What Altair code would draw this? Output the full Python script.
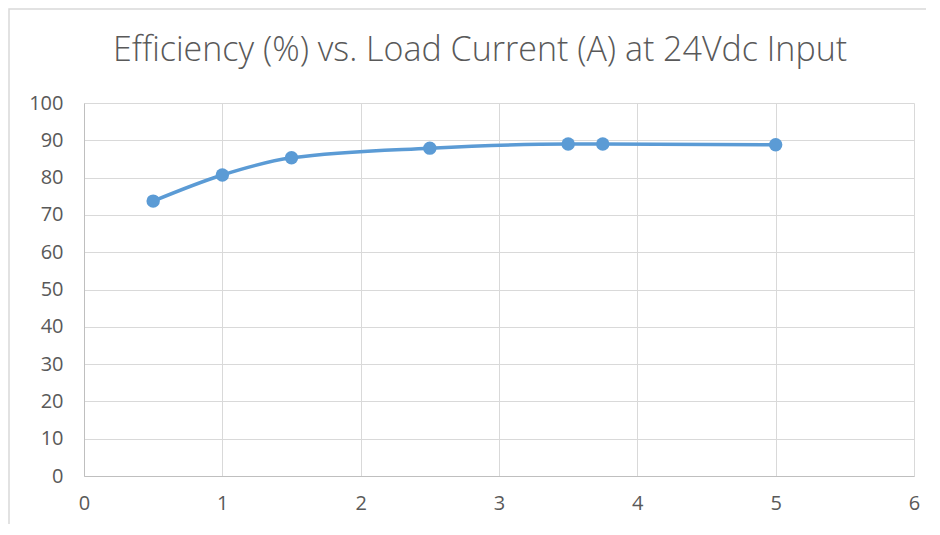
import altair as alt
import pandas as pd

load_current = [0.5, 1.0, 1.5, 2.5, 3.5, 3.75, 5.0]
efficiency = [73.7, 80.7, 85.3, 87.9, 89.0, 89.0, 88.8]
title_text = ["Efficiency (%) vs. Load Current (A) at 24Vdc Input"]

df = pd.DataFrame({"current": load_current, "eff": efficiency})

FONT = "Open Sans"
GRID = "#D9D9D9"
LABEL = "#595959"
BLUE = "#5B9BD5"

x = alt.X("current:Q", scale=alt.Scale(domain=[0, 6], nice=False),
          axis=alt.Axis(title=None, values=[0, 1, 2, 3, 4, 5, 6], format="d",
                        grid=True, gridColor=GRID, domainColor="#BFBFBF",
                        ticks=False, labelPadding=17, labelFontSize=20,
                        labelFlush=False,
                        labelColor=LABEL, labelFont=FONT))
y = alt.Y("eff:Q", scale=alt.Scale(domain=[0, 100], nice=False),
          axis=alt.Axis(title=None, values=list(range(0, 101, 10)),
                        grid=True, gridColor=GRID, domainColor="#BFBFBF",
                        ticks=False, labelPadding=21, labelFontSize=20,
                        labelFlush=False,
                        labelColor=LABEL, labelFont=FONT))

base = alt.Chart(df)
line = base.mark_line(color=BLUE, strokeWidth=3.5, interpolate="monotone").encode(x=x, y=y)
pts = base.mark_point(color=BLUE, filled=True, opacity=1, size=180).encode(x=x, y=y)

border = alt.Chart(pd.DataFrame({"a": [0]})).mark_rect(
    fill=None, stroke="#D9D9D9", strokeWidth=1.5).encode(
    x=alt.value(-75), y=alt.value(-94), x2=alt.value(1000), y2=alt.value(700))

title = alt.Chart(pd.DataFrame({"t": title_text})).mark_text(
    font=FONT, fontSize=34, fontWeight=300, color=LABEL,
    align="center", baseline="alphabetic").encode(
    text="t:N", x=alt.value(396), y=alt.value(-42))

chart = alt.layer(border, line, pts, title).properties(
    width=830, height=373,
    autosize=alt.AutoSizeParams(type="none"),
    padding={"left": 76, "top": 95, "right": 12, "bottom": 48},
).configure_view(stroke=None)

chart.save("out.html", embed_options={"renderer": "svg", "actions": False})
